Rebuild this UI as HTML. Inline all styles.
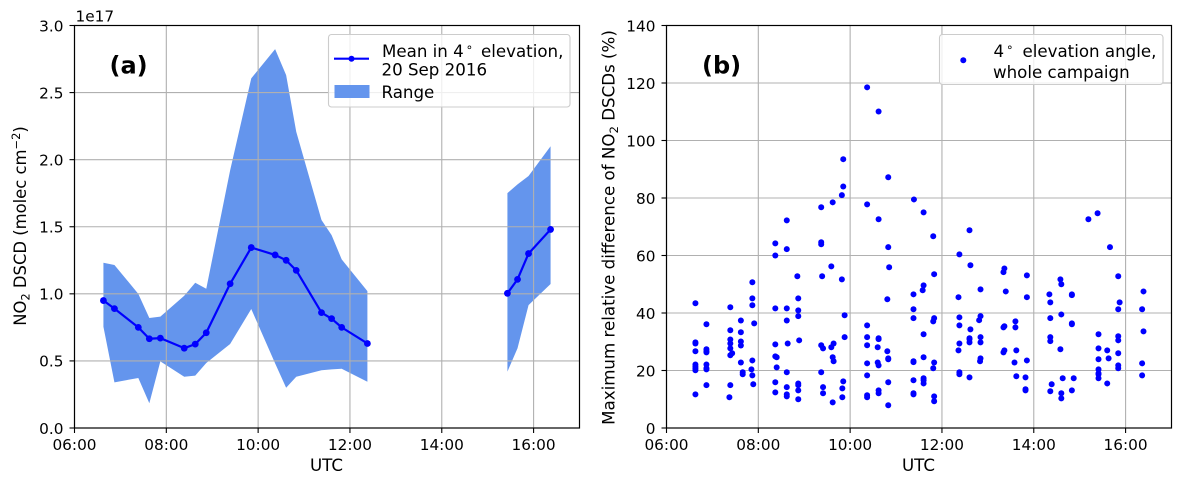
<!DOCTYPE html>
<html lang="en">
<head>
<meta charset="utf-8">
<title>NO2 DSCD charts</title>
<style>
html,body{margin:0;padding:0;background:#fff;width:1182px;height:481px;overflow:hidden}
svg{display:block}
text{font-family:"DejaVu Sans","Liberation Sans",sans-serif;fill:#000}
</style>
</head>
<body>
<svg id="fig" xmlns="http://www.w3.org/2000/svg" width="1182" height="481" viewBox="0 0 1182 481">
<g id="panelA"></g>
<g id="panelB"></g>
<g>
<rect x="328.5" y="34.5" width="241.5" height="72.5" rx="3" fill="#fff" fill-opacity="0.8" stroke="#ccc" stroke-width="1.1"/>
<line x1="334" x2="369" y1="58.7" y2="58.7" stroke="#0000ff" stroke-width="2.2"/>
<circle cx="351.5" cy="58.7" r="3" fill="#0000ff"/>
<text x="382" y="57" font-size="16.67">Mean in 4<tspan font-size="11.7" dy="-6" dx="2">∘</tspan><tspan x="481" dy="6">elevation,</tspan></text>
<text x="381.5" y="75.5" font-size="16.67">20 Sep 2016</text>
<rect x="334.5" y="85" width="35" height="13" fill="#6495ed"/>
<text x="381.5" y="98" font-size="16.67">Range</text>
</g>
<g>
<rect x="939.5" y="34.5" width="223.5" height="50" rx="3" fill="#fff" fill-opacity="0.8" stroke="#ccc" stroke-width="1.1"/>
<circle cx="963.3" cy="60.3" r="3" fill="#0000ff"/>
<text x="993.5" y="57" font-size="16.67">4<tspan font-size="11.7" dy="-6" dx="2">∘</tspan><tspan x="1022.5" dy="6">elevation angle,</tspan></text>
<text x="993" y="78" font-size="16.67">whole campaign</text>
</g>
<text x="109.5" y="73.5" font-size="24" font-weight="bold">(a)</text>
<text x="702" y="73.5" font-size="24" font-weight="bold">(b)</text>
<text x="75.5" y="21.5" font-size="15.3">1e17</text>
<text x="326.5" y="471" font-size="16.67" text-anchor="middle">UTC</text>
<text x="918.5" y="471" font-size="16.67" text-anchor="middle">UTC</text>
<text transform="translate(26 226) rotate(-90)" font-size="16.4" text-anchor="middle">NO<tspan font-size="11.5" dy="3.5">2</tspan><tspan dy="-3.5"> DSCD (molec cm</tspan><tspan font-size="11.5" dy="-6">−2</tspan><tspan dy="6">)</tspan></text>
<text transform="translate(614.5 227.5) rotate(-90)" font-size="16.67" text-anchor="middle">Maximum relative difference of NO<tspan font-size="11.7" dy="3.5">2</tspan><tspan dy="-3.5"> DSCDs (%)</tspan></text>
</svg>
<script>
// Panel (a): mean and range by time
const meanHoursMorning = [6.63,6.87,7.39,7.63,7.87,8.39,8.63,8.87,9.39,9.85,10.37,10.61,10.83,11.38,11.6,11.82,12.38];
const meanValuesMorning = [0.95,0.89,0.75,0.665,0.67,0.595,0.625,0.71,1.075,1.345,1.29,1.25,1.175,0.86,0.815,0.75,0.63];
const rangeUpperMorning = [1.232,1.215,1.0,0.82,0.83,0.986,1.083,1.038,1.92,2.606,2.824,2.63,2.208,1.55,1.438,1.257,1.02];
const rangeLowerMorning = [0.755,0.34,0.373,0.184,0.497,0.382,0.39,0.484,0.626,0.887,0.482,0.30,0.382,0.43,0.437,0.442,0.345];
const meanHoursAfternoon = [15.43,15.65,15.89,16.37];
const meanValuesAfternoon = [1.004,1.108,1.30,1.48];
const rangeUpperAfternoon = [1.751,1.816,1.878,2.10];
const rangeLowerAfternoon = [0.42,0.594,0.916,1.073];
const yTicksA = [0,0.5,1,1.5,2,2.5,3];
const yTickLabelsA = ['0.0','0.5','1.0','1.5','2.0','2.5','3.0'];
const xTicks = [6,8,10,12,14,16];
const xTickLabels = ['06:00','08:00','10:00','12:00','14:00','16:00'];
const yTicksB = [0,20,40,60,80,100,120,140];
const yTickLabelsB = ['0','20','40','60','80','100','120','140'];
// Panel (b): one entry per sweep time, with the values read at that time
const sweepHours = [6.63,6.87,7.39,7.43,7.37,7.62,7.66,7.87,7.91,7.85,7.89,8.37,8.4,8.62,8.64,8.87,8.85,8.89,9.37,9.39,9.41,9.62,9.64,9.59,9.85,9.82,9.83,9.88,10.37,10.62,10.6,10.83,10.81,10.85,11.38,11.39,11.6,11.58,11.83,11.81,12.38,12.36,12.6,12.62,12.84,12.81,12.83,13.36,13.34,13.39,13.6,13.62,13.58,13.85,13.82,14.36,14.34,14.39,14.6,14.58,14.63,14.83,14.87,15.19,15.41,15.39,15.6,15.63,15.66,15.84,15.87,16.36,16.39];
const sweepValues = [
[43.4,29.8,29.4,26.7,22.1,21.4,20.8,20.1,11.7],
[36.1,27.4,26.7,26.3,22.1,20.8,20.4,14.9],
[42,34,30.8,29.4,27.7,25.3,14.9],
[26],
[10.7],
[37.4,33.3,30.1,28.7,22.8],
[19.4,18.7],
[50.7,45.1,42.7,23.5,18.3],
[36.4],
[20.4],
[15.2],
[64.2,60,41.6,29.1,24.9,15.9,12.4],
[24.6,21.1],
[72.2,62.2,41.6,37.4,19.4,14.2,11.7,11],
[29.4],
[45.1,40.9,38.9,15.5,14.9,13.1,10],
[52.8],
[30.5],
[76.8,64.6,63.9,28.8,19.4],
[52.8],
[27.7,14.2,12.1],
[78.5,24.6,8.9],
[29.4,23.2],
[28.1,56.2],
[93.5,84,16.2],
[81,51.7],
[13.8,10.7],
[39.2,31.6],
[118.5,77.8,35.7,31.6,28.8,22.5,18.3,11.4,10.7],
[110.1,72.6,31.2,30.9,21.8,13.1,12.1],
[28.1,22.8],
[87.2,62.9,24.2,23.9,15.9,7.9],
[44.8,26.7],
[55.9],
[46.5,41.3,38.2,23.2,22.9,16.6,12.1,11.7],
[79.5],
[75,49.6,32.6,24.6,17.3,16.6,15.5],
[47.9],
[53.5,38.2,22.8,11,9.3],
[66.7,37.1,20.8],
[60.4,38.5,35.7,29.4,19.4,18.7],
[45.5,27],
[68.8,31.2,30.9,29.8,17.6],
[56.6,34.3],
[48.2,38.9,31.6,29.8,24.2],
[37.5],
[23.2],
[55.5,35.4,27],
[54.2,35,26.3],
[47.5],
[37.1,35],
[27,18],
[22.8],
[53.1,45.5,23.5],
[17.6,13.5,13.1],
[43.7,38.2,31.6,30.2,12.8],
[46.5],
[15.2],
[50,39.5,12.1,10.3],
[51.7,27.4],
[17.3],
[46.5,46.2,36.4,36.1,13.1],
[17.3],
[72.6],
[32.6,27.7,23.9,20.4,19,18.7,17.3],
[74.7],
[27,15.5],
[24.2],
[62.9],
[31.9,30.5,26,21.8,20.8,52.8,41.3],
[43.7],
[41.3,22.5,18.3],
[47.5,33.6]
];

const NS = 'http://www.w3.org/2000/svg';
function mk(parent, tag, attrs, txt) {
  const el = document.createElementNS(NS, tag);
  for (const k in attrs) el.setAttribute(k, attrs[k]);
  if (txt !== undefined) el.textContent = txt;
  parent.appendChild(el);
  return el;
}
const TOP = 25.5, BOTTOM = 428;
const LEFT_A = 74.5, RIGHT_A = 579.5, LEFT_B = 666.5, RIGHT_B = 1171.5;
const xA = h => LEFT_A + (h - 6) / 11 * (RIGHT_A - LEFT_A);
const xB = h => LEFT_B + (h - 6) / 11 * (RIGHT_B - LEFT_B);
const yA = v => BOTTOM - v / 3 * (BOTTOM - TOP);
const yB = v => BOTTOM - v / 140 * (BOTTOM - TOP);
const gA = document.getElementById('panelA');
const gB = document.getElementById('panelB');

function drawRange(hours, upper, lower) {
  const up = hours.map((h, i) => xA(h).toFixed(2) + ',' + yA(upper[i]).toFixed(2));
  const lo = hours.map((h, i) => xA(h).toFixed(2) + ',' + yA(lower[i]).toFixed(2)).reverse();
  const el = mk(gA, 'polygon', {points: up.concat(lo).join(' '), fill: '#6495ed'});
  
  
}
function drawMean(hours, values) {
  const pts = hours.map((h, i) => xA(h).toFixed(2) + ',' + yA(values[i]).toFixed(2)).join(' ');
  const line = mk(gA, 'polyline', {points: pts, fill: 'none', stroke: '#0000ff', 'stroke-width': 2.2, 'stroke-linejoin': 'round'});
  
  
  hours.forEach((h, i) => {
    const c = mk(gA, 'circle', {cx: xA(h), cy: yA(values[i]), r: 3.4, fill: '#0000ff'});
    
    
  });
}
function drawGrid(g, xf, yf, yt, l, r) {
  xTicks.forEach(t => {
    const ln = mk(g, 'line', {x1: xf(t), x2: xf(t), y1: TOP, y2: BOTTOM, stroke: '#b0b0b0', 'stroke-width': 1.1});
    
    
  });
  yt.forEach(t => {
    const ln = mk(g, 'line', {x1: l, x2: r, y1: yf(t), y2: yf(t), stroke: '#b0b0b0', 'stroke-width': 1.1});
    
    
  });
}
function drawAxes(g, xf, yf, yt, yl, l, r) {
  const fr = mk(g, 'rect', {x: l, y: TOP, width: r - l, height: BOTTOM - TOP, fill: 'none', stroke: '#000', 'stroke-width': 1.2});
  
  
  xTicks.forEach((t, i) => {
    const tk = mk(g, 'line', {x1: xf(t), x2: xf(t), y1: BOTTOM, y2: BOTTOM + 5, stroke: '#000', 'stroke-width': 1.1});
    
    
    const lb = mk(g, 'text', {x: xf(t), y: 450, 'font-size': 15.3, 'text-anchor': 'middle'}, xTickLabels[i]);
    
    
  });
  yt.forEach((t, i) => {
    const tk = mk(g, 'line', {x1: l - 5, x2: l, y1: yf(t), y2: yf(t), stroke: '#000', 'stroke-width': 1.1});
    
    
    const lb = mk(g, 'text', {x: l - 11, y: yf(t) + 5.8, 'font-size': 15.3, 'text-anchor': 'end'}, yl[i]);
    
    
  });
}

// Panel (a)
drawRange(meanHoursMorning, rangeUpperMorning, rangeLowerMorning);
drawRange(meanHoursAfternoon, rangeUpperAfternoon, rangeLowerAfternoon);
drawGrid(gA, xA, yA, yTicksA, LEFT_A, RIGHT_A);
drawMean(meanHoursMorning, meanValuesMorning);
drawMean(meanHoursAfternoon, meanValuesAfternoon);
drawAxes(gA, xA, yA, yTicksA, yTickLabelsA, LEFT_A, RIGHT_A);

// Panel (b)
drawGrid(gB, xB, yB, yTicksB, LEFT_B, RIGHT_B);
sweepHours.forEach((h, i) => {
  sweepValues[i].forEach(v => {
    const c = mk(gB, 'circle', {cx: xB(h), cy: yB(v), r: 3, fill: '#0000ff'});
    
    
  });
});
drawAxes(gB, xB, yB, yTicksB, yTickLabelsB, LEFT_B, RIGHT_B);
</script>
</body>
</html>
